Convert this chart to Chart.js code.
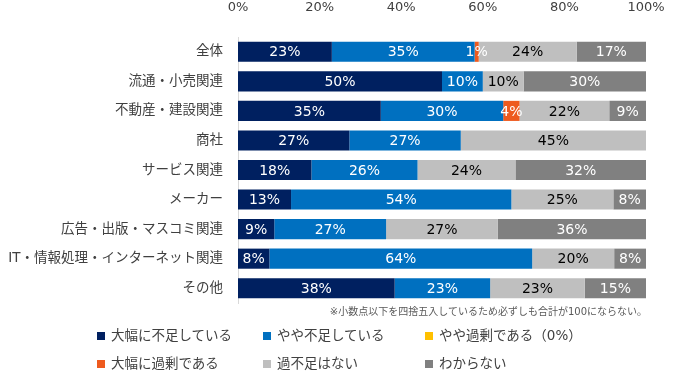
<!DOCTYPE html>
<html>
<head>
<meta charset="utf-8">
<script src="https://cdn.jsdelivr.net/npm/chart.js@4"></script>
<style>
    body { margin: 0; background: #fff; }
    #wrap { position: relative; width: 681px; height: 381px; }
    #wrap canvas { position: absolute; left: 0; top: 0; }
    .note {
        position: absolute; right: 34px; top: 303px;
        font-family: 'DejaVu Sans', 'Noto Sans CJK JP', sans-serif;
        font-size: 10px; color: #595959; white-space: nowrap;
    }
    .legend-item {
        position: absolute; display: flex; align-items: center;
        font-family: 'DejaVu Sans', 'Noto Sans CJK JP', sans-serif;
        font-size: 13.5px; color: #404040; white-space: nowrap;
        height: 20px;
    }
    .legend-item .box { width: 8px; height: 8px; margin-right: 6px; margin-top: 3px; }
</style>
</head>
<body>
<div id="wrap">
    <canvas id="chart" width="681" height="381"></canvas>
    <div class="note">※小数点以下を四捨五入しているため必ずしも合計が100にならない。</div>
</div>
<script>
const FONT = "'DejaVu Sans', 'Noto Sans CJK JP', sans-serif";

// data (%)
const categories = ['全体', '流通・小売関連', '不動産・建設関連', '商社', 'サービス関連', 'メーカー', '広告・出版・マスコミ関連', 'IT・情報処理・インターネット関連', 'その他'];
const muchShort  = [23, 50, 35, 27.3, 18, 13, 8.9, 7.7, 38.4];
const someShort  = [35, 10, 30, 27.3, 26, 54, 27.4, 64.4, 23.4];
const someExcess = [0, 0, 0, 0, 0, 0, 0, 0, 0];
const muchExcess = [1, 0, 4, 0, 0, 0, 0, 0, 0];
const noGap      = [24, 10, 22, 45.4, 24, 25, 27.4, 20.1, 23.2];
const unknown    = [17, 30, 9, 0, 32, 8, 36.3, 7.8, 15];

const seriesLabels = ['大幅に不足している', 'やや不足している', 'やや過剰である（0%）', '大幅に過剰である', '過不足はない', 'わからない'];
const seriesColors = ['#002060', '#0070C0', '#FFC000', '#EE5A1E', '#BFBFBF', '#808080'];
const labelColors  = ['#fff', '#fff', '#000', '#fff', '#000', '#fff'];
const xTicks = [0, 20, 40, 60, 80, 100];

const allSeries = [muchShort, someShort, someExcess, muchExcess, noGap, unknown];

// percent labels inside the bars
const barLabels = {
    id: 'barLabels',
    afterDatasetsDraw(chart) {
        const ctx = chart.ctx;
        ctx.save();
        ctx.font = '14px ' + FONT;
        ctx.textAlign = 'center';
        ctx.textBaseline = 'middle';
        chart.data.datasets.forEach((ds, i) => {
            chart.getDatasetMeta(i).data.forEach((bar, j) => {
                const v = ds.data[j];
                if (!v) return;
                const p = bar.getProps(['x', 'y', 'base'], true);
                ctx.fillStyle = labelColors[i];
                ctx.fillText(Math.round(v) + '%', (p.x + p.base) / 2, p.y + 1);
            });
        });
        ctx.restore();
    }
};

new Chart(document.getElementById('chart').getContext('2d'), {
    type: 'bar',
    data: {
        labels: categories,
        datasets: allSeries.map((d, i) => ({
            label: seriesLabels[i],
            data: d,
            backgroundColor: seriesColors[i],
            borderWidth: 0,
            categoryPercentage: 1,
            barPercentage: 0.68
        }))
    },
    options: {
        indexAxis: 'y',
        responsive: false,
        animation: false,
        layout: { padding: { left: 0, top: 0, right: 35, bottom: 78 } },
        plugins: {
            legend: { display: false },
            tooltip: { enabled: false }
        },
        scales: {
            x: {
                position: 'top',
                stacked: true,
                min: 0,
                max: 100,
                afterBuildTicks: (scale) => { scale.ticks = xTicks.map(v => ({ value: v })); },
                afterFit: (scale) => { scale.height = 37; },
                grid: { display: false },
                border: { display: false },
                ticks: {
                    color: '#404040',
                    font: { family: FONT, size: 13 },
                    padding: 14,
                    callback: (v) => v + '%'
                }
            },
            y: {
                stacked: true,
                afterFit: (scale) => { scale.width = 238; },
                grid: { display: false, drawTicks: false },
                border: { display: true, color: '#D9D9D9', width: 1 },
                ticks: {
                    color: '#404040',
                    font: { family: FONT, size: 13.5 },
                    padding: 15
                }
            }
        }
    },
    plugins: [barLabels]
});

// legend, 3 columns x 2 rows
const legendPos = [[97, 324], [263, 324], [425, 324], [97, 352], [263, 352], [425, 352]];
const wrap = document.getElementById('wrap');
seriesLabels.forEach((name, k) => {
    const item = document.createElement('div');
    item.className = 'legend-item';
    item.style.left = legendPos[k][0] + 'px';
    item.style.top = legendPos[k][1] + 'px';
    const box = document.createElement('span');
    box.className = 'box';
    box.style.background = seriesColors[k];
    item.appendChild(box);
    item.appendChild(document.createTextNode(name));
    wrap.appendChild(item);
});
</script>
</body>
</html>
